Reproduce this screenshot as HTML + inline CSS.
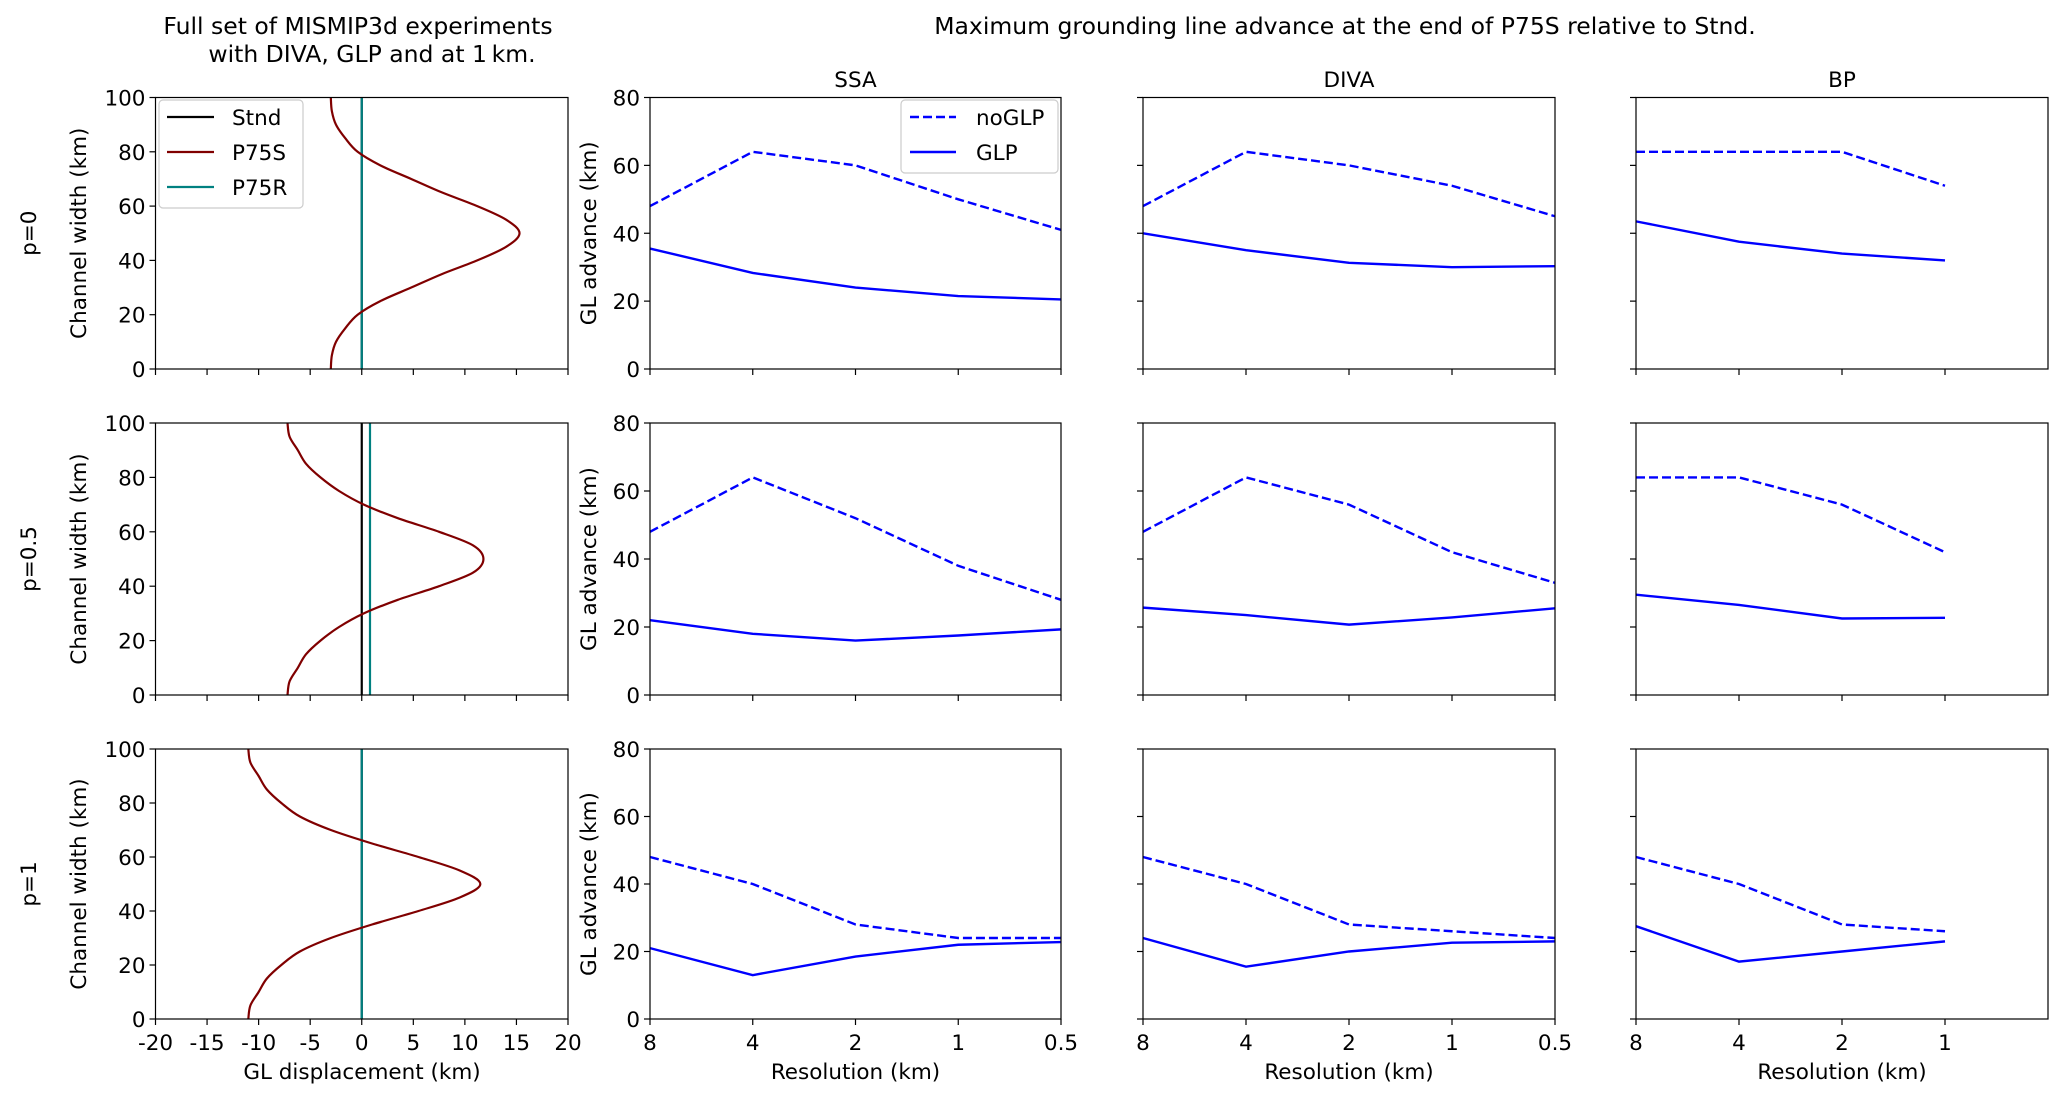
<!DOCTYPE html>
<html><head><meta charset="utf-8"><style>
body{margin:0;background:#fff;}
svg{display:block;font-family:"DejaVu Sans","Liberation Sans",sans-serif;}
</style></head><body>
<svg id="fig" width="2067" height="1102" viewBox="0 0 2067 1102"></svg>
<script>
// ---- data ----
const resTicks = ["8","4","2","1","0.5"];
const colTitles = ["SSA","DIVA","BP"];
const rowLabels = ["p=0","p=0.5","p=1"];
const profileY = [0,5,10,15,20,25,30,35,40,45,50];
const p75sP0   = [-3,-2.9,-2.5,-1.6,-0.4,1.8,4.8,7.8,11.2,14,15.3];
const p75sP05  = [-7.2,-7,-6.2,-5.4,-4,-2.2,0.2,3.5,7.5,10.8,11.8];
const p75sP1   = [-11,-10.8,-10,-9.2,-7.8,-6,-3,1,5.5,9.5,11.5];
const p75rX    = [0,0.8,0];
const stndX    = [0,0,0];
const noglpSSA  = [[48,64,60,50,41],[48,64,52,38,28],[48,40,28,24,24]];
const glpSSA    = [[35.5,28.3,24,21.5,20.5],[22,18,16,17.5,19.3],[21,13,18.5,22,22.8]];
const noglpDIVA = [[48,64,60,54,45],[48,64,56,42,33],[48,40,28,26,24]];
const glpDIVA   = [[40,35,31.3,30,30.3],[25.7,23.5,20.7,22.8,25.5],[24,15.5,20,22.6,23]];
const noglpBP   = [[64,64,64,54],[64,64,56,42],[48,40,28,26]];
const glpBP     = [[43.5,37.5,34,32],[29.5,26.5,22.5,22.7],[27.5,17,20,23]];
const xTicksLeft = [-20,-15,-10,-5,0,5,10,15,20];
const yTicksLeft = [0,20,40,60,80,100];
const yTicksRight = [0,20,40,60,80];

// ---- layout ----
const FS = 21.5;
const svg = document.getElementById('fig');
const NS = 'http://www.w3.org/2000/svg';
const colX = [[155.5,568],[650,1061],[1143,1555],[1636,2048]];
const rowY = [[97.5,369],[423,695],[749,1019]];
function el(tag, attrs, parent){const e=document.createElementNS(NS,tag);for(const k in attrs)e.setAttribute(k,attrs[k]);(parent||svg).appendChild(e);return e;}
function txt(s,x,y,attrs){const t=el('text',Object.assign({x:x,y:y,'font-size':FS,fill:'#000'},attrs||{}));t.textContent=s;return t;}
function smoothPath(P){let d='M'+P[0][0]+','+P[0][1];
  for(let i=0;i<P.length-1;i++){const p0=P[Math.max(0,i-1)],p1=P[i],p2=P[i+1],p3=P[Math.min(P.length-1,i+2)];
    const c1=[p1[0]+(p2[0]-p0[0])/6,p1[1]+(p2[1]-p0[1])/6],c2=[p2[0]-(p3[0]-p1[0])/6,p2[1]-(p3[1]-p1[1])/6];
    d+=' C'+c1[0]+','+c1[1]+' '+c2[0]+','+c2[1]+' '+p2[0]+','+p2[1];}
  return d;}
const profiles=[p75sP0,p75sP05,p75sP1];
const modelsNo=[noglpSSA,noglpDIVA,noglpBP], modelsG=[glpSSA,glpDIVA,glpBP];

for(let r=0;r<3;r++){
  const [y0,y1]=rowY[r];
  {
    const [x0,x1]=colX[0];
    const g=el('g',{});
    
    
    const sx=v=>x0+(v+20)/40*(x1-x0), sy=v=>y1-v/100*(y1-y0);
    const s=el('line',{x1:sx(stndX[r]),x2:sx(stndX[r]),y1:y0,y2:y1,stroke:'#000','stroke-width':2.2},g);
    
    
    const rr=el('line',{x1:sx(p75rX[r]),x2:sx(p75rX[r]),y1:y0,y2:y1,stroke:'#008080','stroke-width':2.2},g);
    
    
    const prof=profiles[r]; let pts=[];
    for(let i=0;i<profileY.length;i++)pts.push([sx(prof[i]),sy(profileY[i])]);
    for(let i=profileY.length-2;i>=0;i--)pts.push([sx(prof[i]),sy(100-profileY[i])]);
    const p=el('path',{d:smoothPath(pts),fill:'none',stroke:'#800000','stroke-width':2.2,'stroke-linejoin':'round'},g);
    
    
    el('rect',{x:x0,y:y0,width:x1-x0,height:y1-y0,fill:'none',stroke:'#000','stroke-width':1.2},g);
    yTicksLeft.forEach(v=>{el('line',{x1:x0-6,x2:x0,y1:sy(v),y2:sy(v),stroke:'#000','stroke-width':1.2},g);txt(String(v),x0-10,sy(v)+8,{'text-anchor':'end'});});
    xTicksLeft.forEach(v=>{el('line',{x1:sx(v),x2:sx(v),y1:y1,y2:y1+6,stroke:'#000','stroke-width':1.2},g);if(r==2)txt(String(v),sx(v),y1+31,{'text-anchor':'middle'});});
    const yl=txt('Channel width (km)',0,0,{'text-anchor':'middle',transform:`translate(86,${(y0+y1)/2}) rotate(-90)`});
    
    
    const rl=txt(rowLabels[r],0,0,{'text-anchor':'middle',transform:`translate(36,${(y0+y1)/2}) rotate(-90)`});
    
    
  }
  for(let c=0;c<3;c++){
    const [x0,x1]=colX[c+1];
    const g=el('g',{});
    
    
    const sx=i=>x0+i/4*(x1-x0), sy=v=>y1-v/80*(y1-y0);
    const no=modelsNo[c][r], gl=modelsG[c][r];
    const l1=el('polyline',{points:no.map((v,i)=>sx(i)+','+sy(v)).join(' '),fill:'none',stroke:'#0000ff','stroke-width':2.4,'stroke-dasharray':'9,4'},g);
    
    
    const l2=el('polyline',{points:gl.map((v,i)=>sx(i)+','+sy(v)).join(' '),fill:'none',stroke:'#0000ff','stroke-width':2.4},g);
    
    
    el('rect',{x:x0,y:y0,width:x1-x0,height:y1-y0,fill:'none',stroke:'#000','stroke-width':1.2},g);
    yTicksRight.forEach(v=>{el('line',{x1:x0-6,x2:x0,y1:sy(v),y2:sy(v),stroke:'#000','stroke-width':1.2},g);if(c==0)txt(String(v),x0-10,sy(v)+8,{'text-anchor':'end'});});
    const nt=c==2?4:5;
    for(let i=0;i<nt;i++){el('line',{x1:sx(i),x2:sx(i),y1:y1,y2:y1+6,stroke:'#000','stroke-width':1.2},g);if(r==2)txt(resTicks[i],sx(i),y1+31,{'text-anchor':'middle'});}
    if(c==0){const yl=txt('GL advance (km)',0,0,{'text-anchor':'middle',transform:`translate(596,${(y0+y1)/2}) rotate(-90)`});
      
      }
    if(r==0){const t=txt(colTitles[c],(x0+x1)/2,87,{'text-anchor':'middle'});
      
      }
    if(r==2){const t=txt('Resolution (km)',(x0+x1)/2,1079,{'text-anchor':'middle'});
      
      }
  }
}
let t=txt('GL displacement (km)',362,1079,{'text-anchor':'middle'});


t=txt('Full set of MISMIP3d experiments',358,34,{'text-anchor':'middle','font-size':23.5});


t=txt('with DIVA, GLP and at 1\u2009km.',372,62,{'text-anchor':'middle','font-size':23.5});


t=txt('Maximum grounding line advance at the end of P75S relative to Stnd.',1345,34,{'text-anchor':'middle','font-size':23.5});



const lg1=el('g',{});


el('rect',{x:159,y:100,width:144,height:108,rx:4,fill:'#fff','fill-opacity':0.85,stroke:'#ccc','stroke-width':1.2},lg1);
[['Stnd','#000'],['P75S','#800000'],['P75R','#008080']].forEach((d,i)=>{const y=117+i*35;
  el('line',{x1:167,x2:214,y1:y,y2:y,stroke:d[1],'stroke-width':2.2},lg1);
  const e=txt(d[0],232,y+8);});
const lg2=el('g',{});


el('rect',{x:901,y:100,width:157,height:73,rx:4,fill:'#fff','fill-opacity':0.85,stroke:'#ccc','stroke-width':1.2},lg2);
[['noGLP','9,4'],['GLP','none']].forEach((d,i)=>{const y=117+i*35;
  el('line',{x1:910,x2:956,y1:y,y2:y,stroke:'#0000ff','stroke-width':2.4,'stroke-dasharray':d[1]},lg2);
  const e=txt(d[0],976,y+8);});
</script>
</body></html>
